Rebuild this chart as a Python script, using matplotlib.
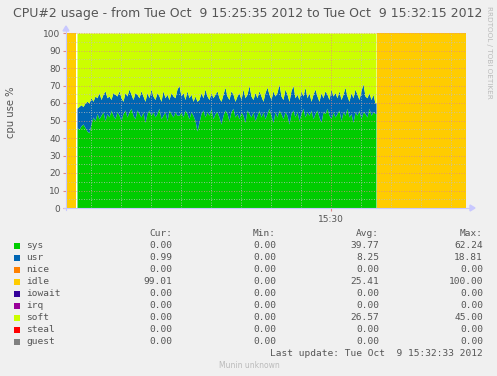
import numpy as np
import matplotlib
matplotlib.use("Agg")
import matplotlib.pyplot as plt

W, H = 497, 376

# ---------------- data ----------------
start_label = "Tue Oct  9 15:25:35 2012"
end_label = "Tue Oct  9 15:32:15 2012"
span_seconds = 400
idle_before = [0, 10]          # seconds (idle 100 %)
idle_after = [311, 400]
active_start = 11
active_end = 310
active_step = 2
sys_vals = [
    46, 45, 47, 48, 46, 44, 43, 48, 52, 50,
    54, 51, 53, 55, 50, 54, 52, 56, 53, 51,
    55, 53, 50, 54, 56, 52, 55, 57, 53, 51,
    56, 54, 52, 55, 49, 54, 56, 53, 55, 52,
    54, 57, 51, 53, 55, 50, 56, 54, 52, 55,
    53, 53, 55, 52, 56, 54, 51, 55, 53, 50,
    44, 49, 54, 56, 52, 55, 53, 57, 51, 54,
    55, 52, 48, 53, 56, 54, 50, 55, 57, 52,
    54, 51, 55, 53, 49, 56, 54, 52, 55, 50,
    53, 56, 52, 55, 51, 54, 57, 53, 49, 55,
    52, 56, 54, 51, 55, 53, 48, 54, 56, 52,
    55, 50, 54, 57, 52, 55, 53, 56, 51, 54,
    56, 52, 49, 55, 54, 57, 53, 51, 55, 52,
    54, 56, 50, 55, 53, 57, 52, 54, 49, 55,
    53, 56, 51, 55, 54, 52, 57, 53, 55, 54,
]
usr_vals = [
    11, 13, 12, 10, 14, 17, 17, 15, 9, 14,
    9, 15, 9, 10, 17, 9, 12, 6, 13, 14,
    9, 14, 13, 7, 10, 12, 13, 8, 9, 15,
    9, 9, 15, 9, 12, 12, 7, 15, 9, 10,
    12, 7, 10, 14, 8, 15, 6, 12, 12, 8,
    15, 17, 9, 14, 6, 13, 12, 10, 8, 14,
    17, 13, 12, 7, 16, 9, 9, 9, 12, 11,
    12, 11, 13, 12, 13, 10, 12, 12, 8, 9,
    10, 15, 7, 15, 14, 9, 16, 12, 7, 16,
    10, 11, 12, 6, 15, 15, 8, 9, 18, 9,
    14, 15, 10, 11, 13, 12, 13, 13, 14, 11,
    10, 12, 13, 7, 17, 8, 13, 5, 14, 14,
    8, 9, 17, 8, 13, 8, 9, 17, 9, 14,
    9, 11, 12, 10, 16, 7, 9, 12, 14, 13,
    12, 6, 16, 16, 10, 11, 9, 9, 10, 6,
]
xtick_seconds = [265]
xtick_labels = ["15:30"]

series_names = ["sys", "usr", "nice", "idle", "iowait", "irq", "soft", "steal", "guest"]
series_colors = ["#00CC00", "#0066B3", "#FF8000", "#FFCC00", "#330099",
                 "#990099", "#CCFF00", "#FF0000", "#808080"]
cur_vals = ["0.00", "0.99", "0.00", "99.01", "0.00", "0.00", "0.00", "0.00", "0.00"]
min_vals = ["0.00"] * 9
avg_vals = ["39.77", "8.25", "0.00", "25.41", "0.00", "0.00", "26.57", "0.00", "0.00"]
max_vals = ["62.24", "18.81", "0.00", "100.00", "0.00", "0.00", "45.00", "0.00", "0.00"]

# ---------------- figure ----------------
BG = "#F0F0F0"
TXT = "#555555"
fig = plt.figure(figsize=(W / 100, H / 100), dpi=100, facecolor=BG)

def fx(px):
    return px / W

def fy(py):
    return 1 - py / H

L, R, T, B = 66, 466, 33, 208
ax = fig.add_axes([fx(L), fy(B), fx(R - L), (B - T) / H])
ax.set_facecolor("white")
ax.set_xlim(0, span_seconds)
ax.set_ylim(0, 100)

t_act = active_start + active_step * np.arange(len(sys_vals))
t_act = np.append(t_act, active_end)
sys_a = np.append(sys_vals, sys_vals[-1]).astype(float)
usr_a = np.append(usr_vals, usr_vals[-1]).astype(float)
top_usr = sys_a + usr_a

ax.fill_between(t_act, 0, sys_a, color=series_colors[0], lw=0, zorder=2)
ax.fill_between(t_act, sys_a, top_usr, color=series_colors[1], lw=0, zorder=2)
ax.fill_between(t_act, top_usr, 100, color=series_colors[6], lw=0, zorder=2)
ax.fill_between(idle_before, 0, 100, color=series_colors[3], lw=0, zorder=2)
ax.fill_between(idle_after, 0, 100, color=series_colors[3], lw=0, zorder=2)

# grid
for v in range(5, 100, 10):
    ax.axhline(v, color="#C0C0C0", lw=0.6, ls=(0, (1, 2)), zorder=3)
for v in range(10, 101, 10):
    ax.axhline(v, color="#E08888", lw=0.6, ls=(0, (1, 2)), zorder=3)
for s in range(25, span_seconds, 30):
    c = "#E08888" if s in xtick_seconds else "#C0C0C0"
    ax.axvline(s, color=c, lw=0.6, ls=(0, (1, 2)), zorder=3)

for sp in ax.spines.values():
    sp.set_visible(False)
ax.set_yticks(range(0, 101, 10))
ax.set_yticklabels([str(v) for v in range(0, 101, 10)], color=TXT, fontsize=6.5)
ax.set_xticks(xtick_seconds)
ax.set_xticklabels(xtick_labels, color=TXT, fontsize=6.5)
ax.tick_params(axis="y", length=2, color="#E08888", pad=2)
ax.tick_params(axis="x", length=2, color="#E08888", pad=3)

# axis lines with arrows
axis_col = "#C8C8FF"
fig.add_artist(plt.Line2D([fx(L), fx(L)], [fy(B + 2), fy(T - 3)], color=axis_col, lw=0.8))
fig.add_artist(plt.Line2D([fx(L - 2), fx(R + 4)], [fy(B), fy(B)], color=axis_col, lw=0.8))
fig.add_artist(plt.Polygon([[fx(L - 3), fy(T - 2)], [fx(L + 3), fy(T - 2)], [fx(L), fy(T - 7)]],
                           closed=True, color=axis_col))
fig.add_artist(plt.Polygon([[fx(R + 4), fy(B - 3)], [fx(R + 4), fy(B + 3)], [fx(R + 9), fy(B)]],
                           closed=True, color=axis_col))

# titles
fig.text(fx(248), fy(13), f"CPU#2 usage - from {start_label} to {end_label}",
         ha="center", va="center", fontsize=9, color=TXT)
fig.text(fx(11), fy(112), "cpu use %", rotation=90, ha="center", va="center",
         fontsize=7.2, color=TXT)
fig.text(fx(489), fy(6), "RRDTOOL / TOBI OETIKER", rotation=-90, ha="center", va="top",
         fontsize=5.2, color="#BBBBBB")

# legend
mono = "DejaVu Sans Mono"
fs = 6.8
hy = 234
fig.text(fx(172), fy(hy), "Cur:", ha="right", va="center", family=mono, fontsize=fs, color=TXT)
fig.text(fx(276), fy(hy), "Min:", ha="right", va="center", family=mono, fontsize=fs, color=TXT)
fig.text(fx(379), fy(hy), "Avg:", ha="right", va="center", family=mono, fontsize=fs, color=TXT)
fig.text(fx(483), fy(hy), "Max:", ha="right", va="center", family=mono, fontsize=fs, color=TXT)
for i, name in enumerate(series_names):
    y = 245.5 + 12 * i
    fig.add_artist(plt.Rectangle((fx(14), fy(y + 3)), 6 / W, 6 / H,
                                 color=series_colors[i], lw=0))
    fig.text(fx(26), fy(y), name, ha="left", va="center", family=mono, fontsize=fs, color=TXT)
    fig.text(fx(172), fy(y), cur_vals[i], ha="right", va="center", family=mono, fontsize=fs, color=TXT)
    fig.text(fx(276), fy(y), min_vals[i], ha="right", va="center", family=mono, fontsize=fs, color=TXT)
    fig.text(fx(379), fy(y), avg_vals[i], ha="right", va="center", family=mono, fontsize=fs, color=TXT)
    fig.text(fx(483), fy(y), max_vals[i], ha="right", va="center", family=mono, fontsize=fs, color=TXT)

fig.text(fx(483), fy(353), "Last update: Tue Oct  9 15:32:33 2012", ha="right", va="center",
         family=mono, fontsize=fs, color=TXT)
fig.text(fx(249), fy(365), "Munin unknown", ha="center", va="center",
         fontsize=5.5, color="#BBBBBB")

fig.savefig("out.png", dpi=100, facecolor=BG)
